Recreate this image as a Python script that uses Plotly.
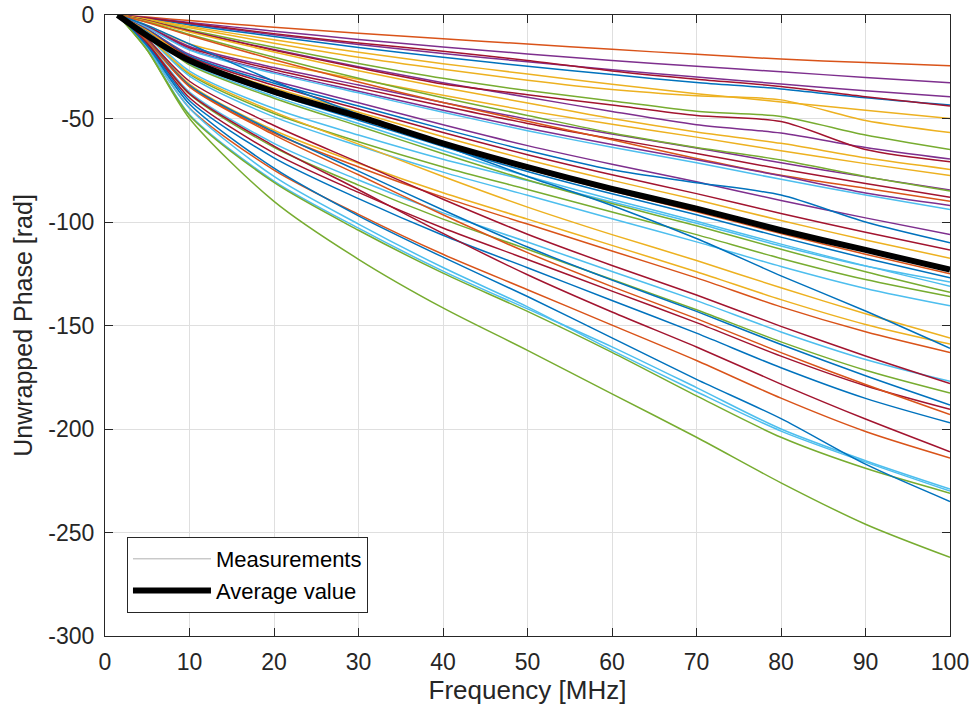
import plotly.graph_objects as go

# Frequency grid (MHz) at which each measured phase curve is sampled
freq_mhz = [1.5, 5, 10, 20, 30, 40, 50, 60, 70, 80, 90, 100]

# Unwrapped phase of every measurement [rad]
m01 = [0, -1.0, -2.7, -5.9, -8.8, -11.5, -14.0, -16.6, -19.0, -21.3, -23.0, -24.5]
m02 = [0, -1.3, -3.6, -7.8, -11.8, -15.4, -18.8, -22.0, -24.8, -27.4, -30.2, -32.7]
m03 = [0, -1.6, -4.3, -9.5, -14.2, -18.6, -22.6, -26.4, -30.0, -33.3, -36.6, -39.5]
m04 = [0, -1.7, -4.8, -10.4, -15.7, -20.4, -24.8, -28.8, -32.6, -35.7, -40.0, -43.5]
m05 = [0, -1.5, -4.0, -9.0, -13.5, -17.5, -22.0, -27.0, -31.0, -34.5, -39.5, -44.0]
m06 = [0, -2.0, -5.5, -12.0, -18.0, -23.5, -28.5, -33.5, -38.0, -42.0, -46.0, -50.0]
m07 = [0, -2.3, -6.2, -13.6, -20.4, -26.2, -31.5, -36.0, -39.0, -41.0, -51.0, -56.8]
m08 = [0, -2.6, -7.2, -15.6, -23.4, -30.6, -36.5, -41.5, -46.5, -49.0, -58.0, -65.0]
m09 = [0, -2.8, -7.7, -16.7, -25.0, -32.7, -39.7, -46.6, -53.0, -57.0, -64.0, -69.6]
m10 = [0, -2.8, -7.8, -17.0, -25.5, -33.3, -38.5, -43.5, -48.5, -51.5, -65.0, -70.9]
m11 = [0, -3.0, -8.2, -17.9, -26.9, -35.0, -42.5, -50.0, -56.5, -62.0, -69.0, -74.6]
m12 = [0, -5.0, -14.0, -23.3, -31.0, -38.8, -46.2, -52.8, -59.0, -65.6, -71.8, -77.6]
m13 = [0, -5.5, -15.2, -25.4, -33.8, -42.3, -50.3, -57.5, -64.2, -71.4, -78.2, -84.5]
m14 = [0, -3.4, -9.4, -20.4, -30.6, -40.0, -48.5, -57.0, -64.0, -70.0, -78.0, -85.0]
m15 = [0, -5.7, -15.8, -26.4, -35.2, -44.0, -52.4, -59.8, -66.9, -74.4, -81.4, -88.0]
m16 = [0, -3.6, -9.9, -21.6, -32.4, -42.3, -51.3, -60.3, -69.3, -77.4, -83.7, -90.0]
m17 = [0, -6.0, -16.6, -27.6, -36.8, -46.0, -54.7, -62.6, -69.9, -77.7, -86.0, -92.0]
m18 = [0, -6.1, -16.9, -28.2, -37.6, -47.0, -55.9, -63.9, -71.4, -79.4, -87.0, -94.0]
m19 = [0, -6.9, -19.1, -31.8, -42.4, -53.0, -63.1, -72.1, -80.6, -89.6, -98.0, -106.0]
m20 = [0, -7.1, -19.8, -33.0, -44.0, -55.0, -65.5, -74.8, -81.0, -87.0, -100.0, -110.0]
m21 = [0, -7.4, -20.4, -34.0, -45.4, -56.8, -67.5, -77.2, -86.3, -95.9, -105.0, -113.5]
m22 = [0, -7.6, -21.2, -35.3, -47.0, -58.8, -69.9, -79.9, -89.3, -99.3, -108.7, -117.5]
m23 = [0, -8.1, -22.5, -37.5, -50.0, -62.5, -74.4, -85.0, -95.0, -105.6, -115.6, -125.0]
m24 = [0, -8.3, -22.9, -38.1, -50.8, -63.5, -75.6, -86.4, -96.5, -107.3, -117.5, -127.0]
m25 = [0, -9.5, -27.1, -45.2, -58.0, -69.7, -80.0, -90.3, -100.6, -111.6, -121.3, -129.0]
m26 = [0, -8.5, -23.6, -39.3, -52.4, -65.5, -77.9, -89.1, -99.6, -110.7, -121.2, -131.0]
m27 = [0, -8.7, -24.1, -40.2, -53.6, -67.0, -79.7, -91.1, -101.8, -113.2, -124.0, -134.0]
m28 = [0, -10.0, -28.6, -47.6, -61.2, -73.4, -84.3, -95.2, -106.1, -117.6, -127.8, -136.0]
m29 = [0, -10.5, -29.5, -49.2, -63.2, -75.9, -87.1, -98.4, -109.6, -121.5, -132.1, -140.5]
m30 = [0, -10.1, -28.1, -46.8, -62.4, -78.0, -92.8, -106.1, -118.6, -131.8, -144.3, -156.0]
m31 = [0, -11.5, -33.4, -55.7, -71.6, -85.9, -98.6, -111.3, -124.0, -137.5, -149.5, -159.0]
m32 = [0, -5.0, -14.0, -32.0, -48.0, -63.0, -78.0, -92.0, -108.0, -126.0, -143.0, -161.0]
m33 = [0, -12.0, -34.2, -57.0, -73.4, -88.0, -101.0, -114.0, -127.0, -141.0, -153.0, -163.0]
m34 = [0, -13.0, -37.2, -62.0, -79.7, -95.6, -109.7, -123.9, -138.0, -153.1, -166.4, -177.0]
m35 = [0, -11.6, -32.0, -53.4, -71.2, -89.0, -105.9, -121.0, -135.3, -150.4, -164.7, -178.0]
m36 = [0, -13.5, -38.3, -63.9, -82.2, -98.6, -113.2, -127.8, -142.4, -157.9, -171.6, -182.6]
m37 = [0, -12.2, -34.0, -56.5, -75.4, -94.2, -112.1, -128.1, -143.2, -159.2, -174.3, -188.4]
m38 = [0, -14.0, -40.0, -66.7, -85.7, -102.9, -118.1, -133.4, -148.6, -164.8, -179.1, -190.5]
m39 = [0, -12.5, -34.7, -57.9, -77.2, -96.5, -114.8, -131.2, -146.7, -163.1, -178.5, -193.0]
m40 = [0, -14.5, -41.4, -69.0, -88.7, -106.4, -122.1, -137.9, -153.7, -170.4, -185.2, -197.0]
m41 = [0, -13.7, -38.0, -63.3, -84.4, -105.5, -125.5, -143.5, -160.4, -178.3, -195.2, -211.0]
m42 = [0, -16.0, -44.9, -74.9, -96.3, -115.6, -132.7, -149.8, -166.9, -185.1, -201.2, -214.0]
m43 = [0, -16.5, -48.1, -80.2, -103.0, -123.7, -142.0, -160.3, -180.0, -200.0, -215.3, -229.0]
m44 = [0, -16.0, -45.0, -78.0, -101.0, -122.0, -141.0, -162.0, -182.0, -201.0, -216.0, -230.0]
m45 = [0, -17.0, -48.5, -80.9, -104.0, -124.7, -143.2, -163.0, -184.0, -204.0, -219.0, -231.0]
m46 = [0, -15.0, -43.0, -74.0, -97.0, -117.0, -136.0, -156.0, -176.0, -195.0, -217.0, -235.0]
m47 = [0, -17.0, -50.0, -90.0, -118.0, -141.5, -162.0, -183.0, -204.0, -226.0, -246.0, -262.0]

# Mean phase across all measurements [rad]
average_phase = [0, -10.0, -22.0, -37.0, -49.0, -62.0, -73.5, -84.0, -93.5, -104.0, -113.5, -123.0]

x_ticks = [0, 10, 20, 30, 40, 50, 60, 70, 80, 90, 100]
y_ticks = [-300, -250, -200, -150, -100, -50, 0]
y_tick_labels = ["-300", "-250", "-200", "-150", "-100", "-50", "0"]

# MATLAB-style default line colours
BLUE, ORANGE, YELLOW, PURPLE = "#0072BD", "#D95319", "#EDB120", "#7E2F8E"
GREEN, LBLUE, DRED = "#77AC30", "#4DBEEE", "#A2142F"

measurements = [
    (m01, ORANGE), (m02, PURPLE), (m03, PURPLE), (m04, BLUE), (m05, DRED),
    (m06, YELLOW), (m07, YELLOW), (m08, GREEN), (m09, PURPLE), (m10, DRED),
    (m11, YELLOW), (m12, YELLOW), (m13, PURPLE), (m14, GREEN), (m15, DRED),
    (m16, ORANGE), (m17, PURPLE), (m18, LBLUE), (m19, PURPLE), (m20, BLUE),
    (m21, DRED), (m22, YELLOW), (m23, ORANGE), (m24, BLUE), (m25, LBLUE),
    (m26, LBLUE), (m27, GREEN), (m28, GREEN), (m29, LBLUE), (m30, YELLOW),
    (m31, YELLOW), (m32, BLUE), (m33, ORANGE), (m34, LBLUE), (m35, DRED),
    (m36, GREEN), (m37, BLUE), (m38, DRED), (m39, ORANGE), (m40, BLUE),
    (m41, DRED), (m42, ORANGE), (m43, LBLUE), (m44, LBLUE), (m45, GREEN),
    (m46, BLUE), (m47, GREEN),
]

FONT = "Liberation Sans, Arial, Helvetica, sans-serif"
AXIS_COLOR = "#262626"

fig = go.Figure()

for values, color in measurements:
    fig.add_trace(go.Scatter(
        x=freq_mhz, y=values, mode="lines",
        line=dict(color=color, width=1.5, shape="spline", smoothing=0.8),
        showlegend=False, hoverinfo="skip",
    ))

# Legend entry representing all measurement curves
fig.add_trace(go.Scatter(
    x=[None], y=[None], mode="lines",
    line=dict(color="#b0b0b0", width=1),
    name="Measurements",
))

fig.add_trace(go.Scatter(
    x=freq_mhz, y=average_phase, mode="lines",
    line=dict(color="black", width=6, shape="spline", smoothing=0.8),
    name="Average value",
))

axis_common = dict(
    showgrid=True, gridcolor="#dfdfdf", gridwidth=1,
    showline=True, linecolor=AXIS_COLOR, linewidth=1, mirror="ticks",
    ticks="inside", ticklen=8, tickcolor=AXIS_COLOR, tickwidth=1,
    zeroline=False, automargin=False,
    tickfont=dict(family=FONT, size=23, color=AXIS_COLOR),
)

fig.update_layout(
    width=975, height=717,
    margin=dict(l=105, r=25, t=15, b=81),
    paper_bgcolor="white", plot_bgcolor="white",
    font=dict(family=FONT, color=AXIS_COLOR),
    xaxis=dict(
        range=[0, 100], tickvals=x_ticks, ticklabelstandoff=5,
        title=dict(text="Frequency [MHz]", font=dict(family=FONT, size=26, color=AXIS_COLOR), standoff=6),
        **axis_common,
    ),
    yaxis=dict(
        range=[-300, 0], tickvals=y_ticks, ticktext=y_tick_labels, ticklabelstandoff=5,
        title=dict(text="Unwrapped Phase [rad]", font=dict(family=FONT, size=25, color=AXIS_COLOR), standoff=8),
        **axis_common,
    ),
    legend=dict(
        x=0.026, y=0.037, xanchor="left", yanchor="bottom",
        bgcolor="white", bordercolor=AXIS_COLOR, borderwidth=1,
        font=dict(family=FONT, size=22, color="black"),
        itemwidth=78, tracegroupgap=0,
    ),
)

fig.write_html("out.html")
